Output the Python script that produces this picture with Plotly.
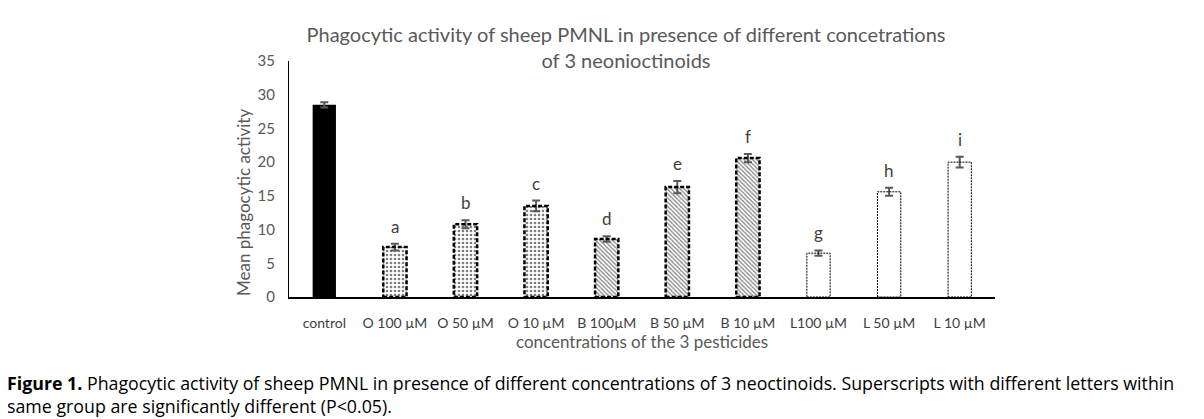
import plotly.graph_objects as go

categories = ["control", "O 100 µM", "O 50 µM", "O 10 µM", "B 100µM", "B 50 µM",
              "B 10 µM", "L100 µM", "L 50 µM", "L 10 µM"]
means = [28.5, 7.4, 10.8, 13.5, 8.6, 16.3, 20.6, 6.5, 15.6, 20.0]
errors = [0.4, 0.5, 0.6, 0.8, 0.4, 0.9, 0.6, 0.4, 0.6, 0.8]
letters = ["", "a", "b", "c", "d", "e", "f", "g", "h", "i"]
groups = ["control", "O", "O", "O", "B", "B", "B", "L", "L", "L"]

# page body adds an 8px margin, so the figure is drawn 8px smaller and offset
OFF = 8
W, H = 1204 - OFF, 419 - OFF
ML, MR, MT, MB = 289 - OFF, 209, 61 - OFF, 122
BAR_W = 0.33
GRAY = "#595959"
FONT = "Lato"

pattern_for = {
    "control": dict(shape=""),
    "O": dict(shape=".", fgcolor="black", bgcolor="white", size=4, solidity=0.35),
    "B": dict(shape="\\", fgcolor="black", bgcolor="white", size=3, solidity=0.4),
    "L": dict(shape=""),
}
fill_for = {"control": "black", "O": "white", "B": "white", "L": "white"}

fig = go.Figure()
for grp in ["control", "O", "B", "L"]:
    idx = [i for i, g in enumerate(groups) if g == grp]
    fig.add_trace(go.Bar(
        x=[categories[i] for i in idx],
        y=[means[i] for i in idx],
        width=BAR_W,
        marker=dict(color=fill_for[grp], line=dict(width=0), pattern=pattern_for[grp]),
        error_y=dict(type="data", array=[errors[i] for i in idx],
                     color=GRAY, thickness=2, width=4),
        showlegend=False,
    ))

# dashed bar outlines
for i, (g, v) in enumerate(zip(groups, means)):
    if g == "control":
        continue
    thick = g in ("O", "B")
    fig.add_shape(type="rect", xref="x", yref="y",
                  x0=i - BAR_W / 2, x1=i + BAR_W / 2, y0=0, y1=v,
                  line=dict(color="black", width=2.5 if thick else 1,
                            dash="4px,2px" if thick else "2px,1px"),
                  layer="above")

# significance letters
for i, (lab, v, e) in enumerate(zip(letters, means, errors)):
    if lab:
        fig.add_annotation(x=categories[i], y=v + e, text=lab, showarrow=False,
                           yanchor="bottom", yshift=5,
                           font=dict(family=FONT, size=17, color="#404040"))

pw = W - ML - MR
ph = H - MT - MB

# y axis title sits a bit below the plot centre, as in the original
fig.add_annotation(
    xref="paper", yref="paper", x=(243 - OFF - ML) / pw, y=(297 - 203) / ph,
    textangle=-90, showarrow=False, xanchor="center", yanchor="middle",
    text="Mean phagocytic activity", font=dict(family=FONT, size=17, color=GRAY),
)

fig.add_annotation(
    xref="paper", yref="paper", x=(5 - OFF - ML) / pw, y=-(369 - OFF - (H - MB)) / ph,
    xanchor="left", yanchor="top", align="left", showarrow=False,
    text="<b>Figure 1.</b> Phagocytic activity of sheep PMNL in presence of different concentrations "
         "of 3 neoctinoids. Superscripts with different letters within<br>"
         "same group are significantly different (P<0.05).",
    font=dict(family="Open Sans", size=17.8, color="black"),
)

fig.update_layout(
    width=W, height=H,
    margin=dict(l=ML, r=MR, t=MT, b=MB, autoexpand=False),
    plot_bgcolor="white", paper_bgcolor="white",
    title=dict(text="Phagocytic activity of sheep PMNL in presence of different concetrations<br>"
                    "of 3 neonioctinoids",
               x=(626 - OFF) / W, xanchor="center", xref="container",
               y=1 - (42 - OFF) / H, yanchor="top", yref="container",
               font=dict(family=FONT, size=20, color=GRAY)),
    font=dict(family=FONT, color=GRAY),
)
fig.update_xaxes(
    automargin=False,
    showline=True, linecolor="black", linewidth=1.5,
    tickfont=dict(size=14, color="#404040"),
    ticks="outside", ticklen=12, tickcolor="rgba(0,0,0,0)",
    title=dict(text="concentrations of the 3 pesticides", standoff=3,
               font=dict(size=17, color=GRAY)),
)
fig.update_yaxes(
    automargin=False,
    range=[0, 35], dtick=5, showgrid=False, zeroline=False,
    showline=True, linecolor="black", linewidth=1,
    tickfont=dict(size=15, color=GRAY),
    ticks="outside", ticklen=10, tickcolor="rgba(0,0,0,0)",
)

fig.write_html("out.html")
